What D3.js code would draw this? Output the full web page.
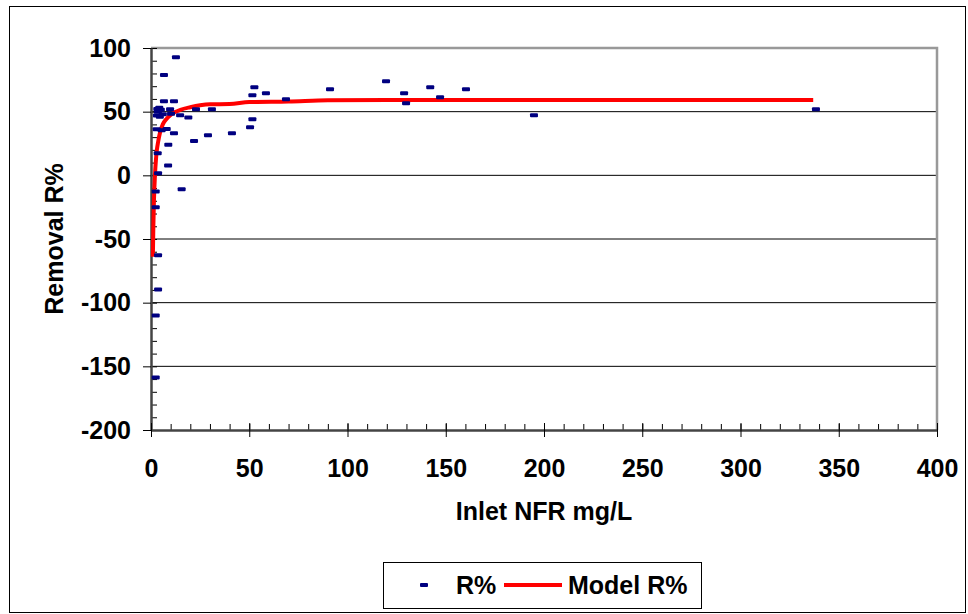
<!DOCTYPE html>
<html>
<head>
<meta charset="utf-8">
<script src="https://cdn.jsdelivr.net/npm/d3@7"></script>
<style>
  body { margin: 0; background: #fff; }
  svg { display: block; font-family: "Liberation Sans", Arial, sans-serif; font-weight: bold; }
</style>
</head>
<body>
<svg id="chart"></svg>
<script>
// measured points: inlet NFR (mg/L) and removal R%
const nfr = [2.4, 2.4, 3.6, 3.6, 2.4, 2.4, 15.6, 3.6, 8.7, 3.4,
             8.8, 21.9, 29, 41.2, 11.7, 2.9, 5.4, 8, 50.4, 51.6,
             19, 14.8, 10.2, 3, 4.5, 6, 3.5, 5, 3.2, 4.2,
             9.7, 22.9, 31, 6.6, 11.7, 6.6, 12.7, 51.6, 52.6, 58.5,
             68.7, 91.1, 119.6, 128.8, 129.8, 142.1, 147.1, 160.3, 194.9, 338.4];
const removal = [-158.7, -110, -89.6, -62.8, -25, -12.6, -11, 1.6, 7.8, 17.3,
                 24, 27, 31.4, 33, 33, 36.1, 35.5, 36.3, 37.7, 44,
                 45.5, 47.1, 48.4, 47, 46, 48, 50, 51.5, 52, 53,
                 51.8, 51.8, 51.8, 58.1, 58.1, 78.8, 92.7, 62.8, 69.1, 64.4,
                 59.7, 67.6, 73.8, 64.4, 56.6, 69.1, 61.3, 67.6, 47.1, 51.8];

// model curve
const modelX = [0.95, 1.2, 1.5, 2, 2.5, 3, 3.6, 4.5, 6, 8, 10, 12, 15, 20, 25, 30, 40, 50, 70, 90, 120, 200, 337];
const modelR = [-64, -40, -20, 0, 12, 20, 26, 33, 40, 44.5, 47.5, 49.5, 51.5, 53.5, 55, 55.8, 56, 57.5, 58, 59, 59.2, 59.2, 59.2];

const xTicks = [0, 50, 100, 150, 200, 250, 300, 350, 400];
const yTicks = [-200, -150, -100, -50, 0, 50, 100];

const width = 968, height = 614;
const margin = { top: 48, right: 31, bottom: 184, left: 151 };
const fontSize = "25px";

const svg = d3.select("#chart")
    .attr("width", width)
    .attr("height", height);

// outer frame
svg.append("rect")
    .attr("x", 9.5).attr("y", 6.5)
    .attr("width", 956).attr("height", 606)
    .attr("fill", "none")
    .attr("stroke", "#000")
    .attr("stroke-width", 1);

const x = d3.scaleLinear()
    .domain([0, 400])
    .range([margin.left, width - margin.right]);

const y = d3.scaleLinear()
    .domain([-200, 100])
    .range([height - margin.bottom, margin.top]);

// gridlines
svg.append("g")
    .selectAll("line")
    .data(yTicks.filter(d => d > -200 && d < 100))
    .enter()
    .append("line")
    .attr("x1", x(0)).attr("x2", x(400))
    .attr("y1", d => y(d)).attr("y2", d => y(d))
    .attr("stroke", "#000")
    .attr("stroke-width", 1);

// plot border top / right
svg.append("path")
    .attr("d", `M${x(0)},${y(100)}H${x(400)}V${y(-200)}`)
    .attr("fill", "none")
    .attr("stroke", "#999")
    .attr("stroke-width", 2.5);

// minor ticks
svg.append("g")
    .attr("transform", `translate(${x(0)},0)`)
    .call(d3.axisRight(y).ticks(30).tickSize(6).tickFormat(""))
    .call(g => g.select(".domain").remove())
    .selectAll("line").attr("stroke", "#000");

svg.append("g")
    .attr("transform", `translate(0,${y(-200)})`)
    .call(d3.axisTop(x).ticks(40).tickSize(6).tickFormat(""))
    .call(g => g.select(".domain").remove())
    .selectAll("line").attr("stroke", "#000");

// major axes
const yAxis = svg.append("g")
    .attr("transform", `translate(${x(0)},0)`)
    .call(d3.axisLeft(y).tickValues(yTicks).tickSize(8).tickPadding(12).tickSizeOuter(0)
        .tickFormat(d => String(d)));
yAxis.select(".domain").attr("stroke", "#444").attr("stroke-width", 2.5);
yAxis.selectAll("line").attr("stroke", "#000");
yAxis.selectAll("text")
    .style("font-size", fontSize)
    .style("font-weight", "bold")
    .style("font-family", "Liberation Sans, Arial, sans-serif")
    .attr("fill", "#000");

const xAxis = svg.append("g")
    .attr("transform", `translate(0,${y(-200)})`)
    .call(d3.axisBottom(x).tickValues(xTicks).tickSize(7).tickPadding(22).tickSizeOuter(0)
        .tickFormat(d => String(d)));
xAxis.select(".domain").attr("stroke", "#444").attr("stroke-width", 2.5);
xAxis.selectAll("line").attr("stroke", "#000").attr("y1", -7);
xAxis.selectAll("text")
    .style("font-size", fontSize)
    .style("font-weight", "bold")
    .style("font-family", "Liberation Sans, Arial, sans-serif")
    .attr("fill", "#000");

// axis titles
svg.append("text")
    .attr("x", (x(0) + x(400)) / 2)
    .attr("y", 520)
    .style("text-anchor", "middle")
    .style("font-size", fontSize)
    .text("Inlet NFR mg/L");

svg.append("text")
    .attr("transform", `translate(63,${(y(100) + y(-200)) / 2}) rotate(-90)`)
    .style("text-anchor", "middle")
    .style("font-size", fontSize)
    .text("Removal R%");

// model line
const model = modelX.map((d, i) => ({ x: d, r: modelR[i] }));
svg.append("path")
    .datum(model)
    .attr("fill", "none")
    .attr("stroke", "#ff0000")
    .attr("stroke-width", 4)
    .attr("stroke-linejoin", "round")
    .attr("d", d3.line().x(d => x(d.x)).y(d => y(d.r)).curve(d3.curveMonotoneX));

// data markers
const pts = nfr.map((d, i) => ({ x: d, r: removal[i] }));
svg.selectAll(".pt")
    .data(pts)
    .enter()
    .append("rect")
    .attr("class", "pt")
    .attr("x", d => x(d.x) - 4)
    .attr("y", d => y(d.r) - 2)
    .attr("width", 8)
    .attr("height", 4)
    .attr("rx", 1)
    .attr("fill", "#000080");

// legend
const legend = svg.append("g");
legend.append("rect")
    .attr("x", 383.5).attr("y", 562.5)
    .attr("width", 318).attr("height", 46)
    .attr("fill", "#fff")
    .attr("stroke", "#000")
    .attr("stroke-width", 1);
legend.append("rect")
    .attr("x", 420).attr("y", 583)
    .attr("width", 8).attr("height", 4)
    .attr("rx", 1)
    .attr("fill", "#000080");
legend.append("text")
    .attr("x", 456).attr("y", 594)
    .style("font-size", fontSize)
    .text("R%");
legend.append("line")
    .attr("x1", 504).attr("x2", 562)
    .attr("y1", 585).attr("y2", 585)
    .attr("stroke", "#ff0000")
    .attr("stroke-width", 4);
legend.append("text")
    .attr("x", 568).attr("y", 594)
    .style("font-size", fontSize)
    .text("Model R%");
</script>
</body>
</html>
